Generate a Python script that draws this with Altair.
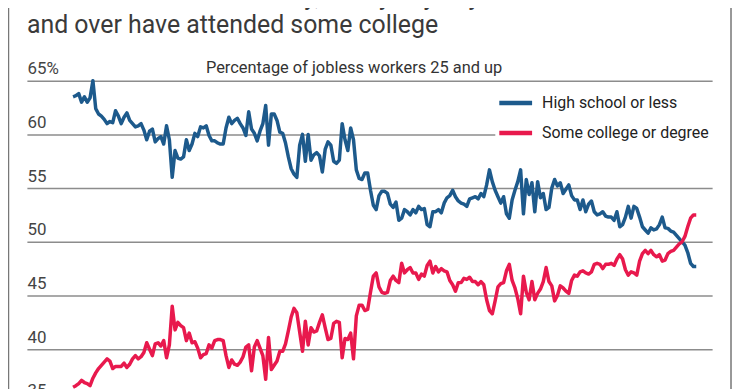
import altair as alt
import pandas as pd

# ---------------- data ----------------
months = list(range(221))  # monthly observations, index 0 = first month shown

high_school = [
    63.5, 63.6, 63.8, 63.0, 63.5, 63.0, 63.4, 65.0, 62.4, 61.9,
    61.7, 61.4, 61.0, 61.2, 61.1, 62.2, 61.7, 61.0, 61.6, 62.0,
    61.3, 61.0, 60.7, 60.8, 61.0, 60.4, 59.5, 60.3, 60.5, 59.3,
    59.6, 59.8, 59.1, 60.8, 59.5, 56.0, 58.5, 57.8, 57.7, 57.9,
    59.5, 58.5, 59.1, 60.1, 59.8, 60.7, 60.6, 60.8, 59.9, 59.4,
    59.4, 59.2, 59.1, 59.1, 60.6, 61.6, 61.0, 61.3, 61.5, 61.0,
    60.6, 59.9, 62.1, 60.5, 60.1, 59.4, 60.3, 61.0, 62.7, 59.0,
    61.9, 61.9, 61.3, 60.2, 60.1, 59.2, 57.9, 56.8, 56.3, 56.0,
    59.0, 60.0, 57.5, 60.0, 57.6, 58.1, 58.3, 58.0, 56.5, 58.6,
    59.3, 59.0, 57.5, 57.3, 57.6, 61.0, 59.5, 58.5, 60.6, 59.5,
    56.7, 55.9, 55.8, 56.4, 56.4, 54.8, 53.4, 53.0, 54.3, 54.7,
    54.7, 54.5, 53.5, 53.2, 53.7, 52.0, 52.2, 53.0, 52.8, 52.5,
    53.0, 52.7, 53.3, 53.0, 53.1, 51.6, 51.4, 52.8, 52.8, 53.0,
    52.7, 53.6, 54.1, 54.3, 54.8, 54.2, 53.8, 53.6, 53.5, 53.3,
    54.0, 54.1, 54.2, 54.0, 54.5, 54.2, 55.3, 56.7, 55.6, 54.8,
    54.2, 53.6, 54.2, 52.6, 52.2, 53.9, 54.8, 55.6, 56.7, 52.6,
    55.8, 54.4, 55.5, 52.8, 55.6, 54.1, 54.5, 53.0, 53.2, 55.0,
    55.8, 55.2, 55.5, 54.5, 54.9, 55.3, 54.3, 53.9, 53.9, 53.0,
    53.9, 52.8, 53.5, 53.8, 52.8, 52.5, 52.6, 52.8, 52.4, 52.3,
    52.3, 52.0, 52.8, 51.4, 51.6, 52.3, 53.3, 52.2, 53.3, 53.1,
    52.3, 51.4, 51.1, 50.8, 51.3, 51.1, 51.2, 51.6, 52.3, 51.3,
    51.25, 51.0, 50.9, 50.6, 50.3, 50.0, 49.7, 49.0, 48.0, 47.7,
    47.7,
]

some_college = [
    36.45, 36.6, 36.8, 37.1, 36.9, 36.8, 36.6, 37.3, 37.8, 38.2,
    38.5, 38.8, 39.1, 38.9, 38.2, 38.4, 38.4, 38.4, 38.7, 38.3,
    38.6, 39.1, 39.4, 39.1, 39.3, 39.7, 40.6, 40.0, 39.4, 40.5,
    40.6, 40.3, 40.8, 39.2, 40.4, 44.0, 41.8, 42.5, 42.2, 42.0,
    40.8, 41.5, 40.6, 40.7, 40.1, 39.2, 39.5, 39.6, 40.4, 40.1,
    40.8, 40.9, 40.9, 40.8, 39.4, 38.3, 39.0, 38.6, 38.5, 38.8,
    39.3, 40.2, 40.4, 38.0, 40.2, 40.8, 40.1, 39.4, 37.2, 41.1,
    38.1, 38.5, 38.9, 39.8, 39.8, 40.5, 41.7, 43.0, 43.8, 43.4,
    41.6, 39.8, 42.6, 40.4, 42.0, 41.6, 41.7, 42.5, 43.2, 42.0,
    40.9, 41.0, 42.4, 42.6, 42.5, 39.2, 41.0, 40.9, 41.5, 39.1,
    43.1, 44.1, 44.1, 43.6, 43.7, 45.3, 46.8, 47.1, 45.8, 45.3,
    45.2, 45.3, 46.4, 46.8, 46.4, 46.2, 48.0, 47.1, 47.4, 47.6,
    47.1, 47.1, 46.5, 47.0, 46.8, 47.8, 48.2, 47.1, 47.7, 47.2,
    47.5, 47.3, 47.2, 46.4, 46.0, 45.4, 46.2, 46.2, 46.6, 46.5,
    46.7, 46.3, 46.3, 46.0, 46.3, 46.0, 44.6, 43.6, 43.3, 44.5,
    45.8, 46.1, 46.2, 47.3, 47.9, 46.4, 45.7, 44.7, 43.3, 46.8,
    45.3, 44.6, 46.3, 44.6, 45.2, 45.6, 46.3, 47.6, 46.3, 45.9,
    44.5, 45.0, 45.9, 45.7, 45.4, 45.2, 46.4, 46.9, 46.8, 47.2,
    47.3, 47.1, 47.0, 47.2, 47.9, 48.0, 47.9, 47.5, 47.9, 47.9,
    48.0, 47.8, 48.4, 48.8, 48.4, 47.4, 46.9, 47.2, 47.1, 46.9,
    48.2, 48.9, 49.2, 48.9, 49.2, 48.8, 48.6, 48.8, 48.2, 48.3,
    48.9, 49.1, 49.2, 49.5, 49.8, 50.0, 50.5, 51.4, 52.2, 52.5,
    52.5,
]

series_names = ["High school or less", "Some college or degree"]
series_colors = ["#1d5a8c", "#e8194d"]
y_ticks = [35, 40, 45, 50, 55, 60, 65]
title_lines = [
    "For the first time in history, a majority of jobless workers 25",
    "and over have attended some college",
]
subtitle = "Percentage of jobless workers 25 and up"

# ---------------- build table ----------------
df = pd.DataFrame({
    "month": months + months,
    "pct": high_school + some_college,
    "group": [series_names[0]] * len(months) + [series_names[1]] * len(months),
})
one = pd.DataFrame({"k": [0]})

W, H = 689, 324
NARROW = "Roboto"

lines = alt.Chart(df).mark_line(strokeWidth=3.5, strokeJoin="round").encode(
    x=alt.X("month:Q", scale=alt.Scale(domain=[-16.3, 225.6], nice=False, zero=False), axis=None),
    y=alt.Y(
        "pct:Q",
        scale=alt.Scale(domain=[35, 65], nice=False, zero=False),
        axis=alt.Axis(
            values=y_ticks, title=None, orient="left", domain=False, ticks=False, tickSize=0,
            grid=True, gridColor="#8c8c8c", gridWidth=1.5,
            labelAlign="left", labelBaseline="alphabetic", labelPadding=0, labelOffset=-7,
            labelFlush=False, labelFont=NARROW, labelFontSize=17, labelColor="#444444",
            labelExpr="datum.value == 65 ? '65%' : datum.label",
        ),
    ),
    color=alt.Color(
        "group:N",
        scale=alt.Scale(domain=series_names, range=series_colors),
        legend=alt.Legend(
            title=None, orient="none", legendX=471, legendY=2, direction="vertical",
            symbolType="M-2,0H2", symbolStrokeWidth=4.5, symbolSize=272,
            labelFont=NARROW, labelFontSize=16, labelColor="#222222", labelOffset=16,
            labelLimit=400, rowPadding=10, fillColor="white", padding=10,
        ),
    ),
)

frame = alt.Chart(one).mark_rect(filled=False, stroke="#777777", strokeWidth=1.5).encode(
    x=alt.value(-18.5), x2=alt.value(708), y=alt.value(-120), y2=alt.value(440)
)

title1 = alt.Chart(one).mark_text(
    align="left", baseline="alphabetic", font="Roboto", fontSize=25, color="#3a3a3a"
).encode(x=alt.value(0), y=alt.value(-76), text=alt.value(title_lines[0]))

title2 = alt.Chart(one).mark_text(
    align="left", baseline="alphabetic", font="Roboto", fontSize=25, color="#3a3a3a"
).encode(x=alt.value(0), y=alt.value(-48), text=alt.value(title_lines[1]))

sub = alt.Chart(one).mark_text(
    align="center", baseline="alphabetic", font=NARROW, fontSize=16.5, color="#333333"
).encode(x=alt.value(329), y=alt.value(-8), text=alt.value(subtitle))

chart = alt.layer(frame, lines, title1, title2, sub).properties(
    width=W, height=H,
    padding={"left": 19, "top": 72, "right": 20, "bottom": 0},
    autosize=alt.AutoSizeParams(type="none"),
    background="white",
).configure_view(strokeWidth=0)

chart.save("out.html", embed_options={"renderer": "svg", "actions": False})
